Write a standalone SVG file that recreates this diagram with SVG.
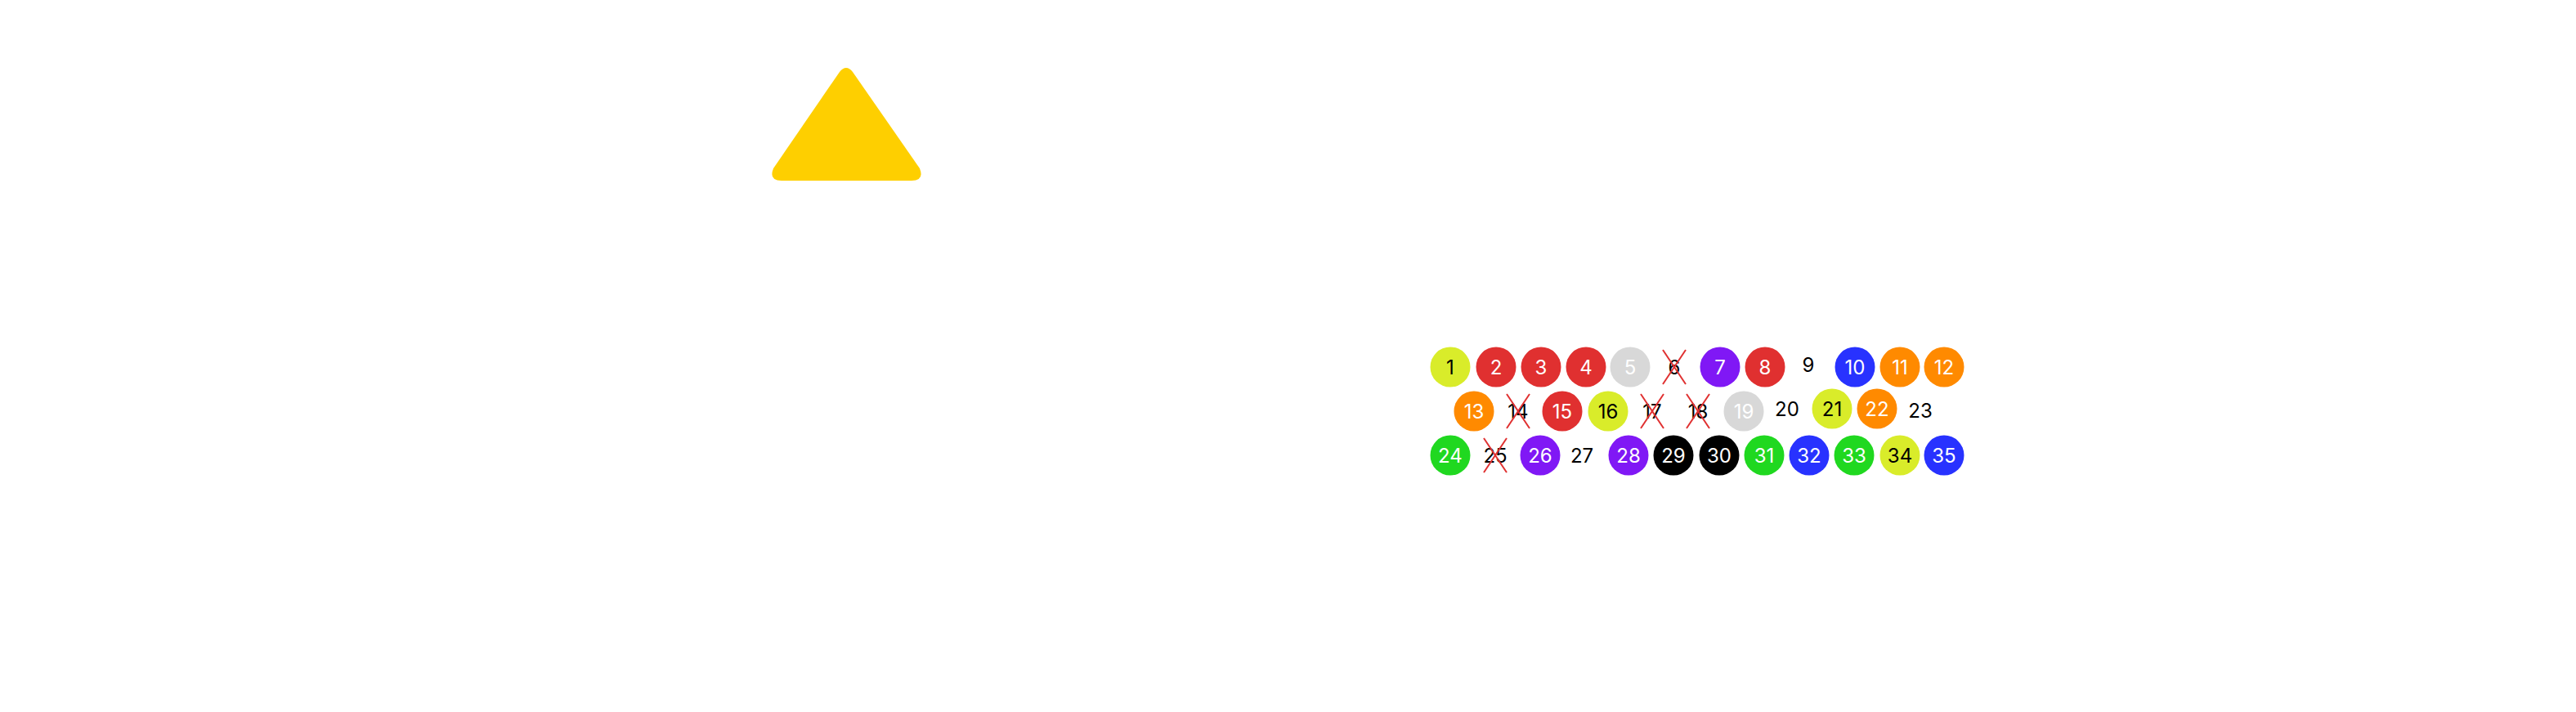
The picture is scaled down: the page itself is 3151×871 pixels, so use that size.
<svg xmlns="http://www.w3.org/2000/svg" width="3151" height="871" viewBox="0 0 3151 871">
<style>
text{font-family:Inter,"Liberation Sans",sans-serif;font-size:24px;text-anchor:middle;dominant-baseline:central}
.w{fill:#fff}.k{fill:#000}
.x{stroke:#e03030;stroke-width:2}
</style>
<defs>
<g id="xx"><line class="x" x1="-14" y1="-21" x2="14" y2="21"/><line class="x" x1="14" y1="-21" x2="-14" y2="21"/></g>
</defs>
<rect width="3151" height="871" fill="#fff"/>
<g id="triangle"><path d="M1027,88 Q1035,78 1043,88 L1125,206 Q1131,221 1115,221 L956,221 Q940,221 946,206 Z" fill="#fecf00"/></g>
<g id="balls">
<g id="n1"><circle cx="1774" cy="449" r="24.5" fill="#d9ec2a"/><text x="1774" y="449" class="k">1</text></g>
<g id="n2"><circle cx="1830" cy="449" r="24.5" fill="#e03030"/><text x="1830" y="449" class="w">2</text></g>
<g id="n3"><circle cx="1885" cy="449" r="24.5" fill="#e03030"/><text x="1885" y="449" class="w">3</text></g>
<g id="n4"><circle cx="1940" cy="449" r="24.5" fill="#e03030"/><text x="1940" y="449" class="w">4</text></g>
<g id="n5"><circle cx="1994" cy="449" r="24.5" fill="#d8d8d8"/><text x="1994" y="449" class="w">5</text></g>
<g id="n6"><text x="2048" y="449" class="k">6</text><use href="#xx" x="2048" y="449"/></g>
<g id="n7"><circle cx="2104" cy="449" r="24.5" fill="#8018f5"/><text x="2104" y="449" class="w">7</text></g>
<g id="n8"><circle cx="2159" cy="449" r="24.5" fill="#e03030"/><text x="2159" y="449" class="w">8</text></g>
<g id="n9"><text x="2212" y="446" class="k">9</text></g>
<g id="n10"><circle cx="2269" cy="449" r="24.5" fill="#2832ff"/><text x="2269" y="449" class="w">10</text></g>
<g id="n11"><circle cx="2324" cy="449" r="24.5" fill="#ff8a00"/><text x="2324" y="449" class="w">11</text></g>
<g id="n12"><circle cx="2378" cy="449" r="24.5" fill="#ff8a00"/><text x="2378" y="449" class="w">12</text></g>
<g id="n13"><circle cx="1803" cy="503" r="24.5" fill="#ff8a00"/><text x="1803" y="503" class="w">13</text></g>
<g id="n14"><text x="1857" y="503" class="k">14</text><use href="#xx" x="1857" y="503"/></g>
<g id="n15"><circle cx="1911" cy="503" r="24.5" fill="#e03030"/><text x="1911" y="503" class="w">15</text></g>
<g id="n16"><circle cx="1967" cy="503" r="24.5" fill="#d9ec2a"/><text x="1967" y="503" class="k">16</text></g>
<g id="n17"><text x="2021" y="503" class="k">17</text><use href="#xx" x="2021" y="503"/></g>
<g id="n18"><text x="2077" y="503" class="k">18</text><use href="#xx" x="2077" y="503"/></g>
<g id="n19"><circle cx="2133" cy="503" r="24.5" fill="#d8d8d8"/><text x="2133" y="503" class="w">19</text></g>
<g id="n20"><text x="2186" y="500" class="k">20</text></g>
<g id="n21"><circle cx="2241" cy="500" r="24.5" fill="#d9ec2a"/><text x="2241" y="500" class="k">21</text></g>
<g id="n22"><circle cx="2296" cy="500" r="24.5" fill="#ff8a00"/><text x="2296" y="500" class="w">22</text></g>
<g id="n23"><text x="2349" y="502" class="k">23</text></g>
<g id="n24"><circle cx="1774" cy="557" r="24.5" fill="#20d820"/><text x="1774" y="557" class="w">24</text></g>
<g id="n25"><text x="1829" y="557" class="k">25</text><use href="#xx" x="1829" y="557"/></g>
<g id="n26"><circle cx="1884" cy="557" r="24.5" fill="#8018f5"/><text x="1884" y="557" class="w">26</text></g>
<g id="n27"><text x="1935" y="557" class="k">27</text></g>
<g id="n28"><circle cx="1992" cy="557" r="24.5" fill="#8018f5"/><text x="1992" y="557" class="w">28</text></g>
<g id="n29"><circle cx="2047" cy="557" r="24.5" fill="#000"/><text x="2047" y="557" class="w">29</text></g>
<g id="n30"><circle cx="2103" cy="557" r="24.5" fill="#000"/><text x="2103" y="557" class="w">30</text></g>
<g id="n31"><circle cx="2158" cy="557" r="24.5" fill="#20d820"/><text x="2158" y="557" class="w">31</text></g>
<g id="n32"><circle cx="2213" cy="557" r="24.5" fill="#2832ff"/><text x="2213" y="557" class="w">32</text></g>
<g id="n33"><circle cx="2268" cy="557" r="24.5" fill="#20d820"/><text x="2268" y="557" class="w">33</text></g>
<g id="n34"><circle cx="2324" cy="557" r="24.5" fill="#d9ec2a"/><text x="2324" y="557" class="k">34</text></g>
<g id="n35"><circle cx="2378" cy="557" r="24.5" fill="#2832ff"/><text x="2378" y="557" class="w">35</text></g>
</g>
<g id="connectors"/>
</svg>
